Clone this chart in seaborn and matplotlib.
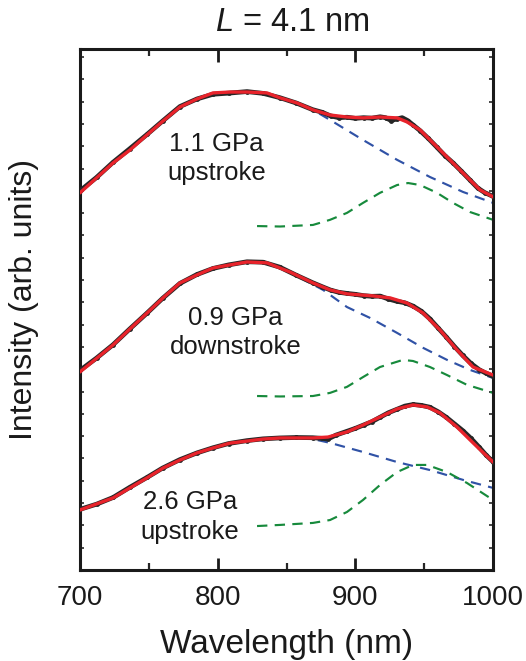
import numpy as np
import pandas as pd
import matplotlib
matplotlib.use("Agg")
import matplotlib.pyplot as plt
import seaborn as sns
from matplotlib.ticker import MultipleLocator

# ---------------- data ----------------
labels = ["1.1 GPa\nupstroke", "0.9 GPa\ndownstroke", "2.6 GPa\nupstroke"]

# --- top: 1.1 GPa upstroke ---
top_fit_x = [700, 724, 736.3, 748.7, 760.3, 772.6, 785, 796.6, 809, 821.3, 835.8, 845.3,
             857.6, 869.2, 881.6, 893.9, 905.6, 917.9, 930.3, 937.5, 947.0, 959.3, 970.9,
             981.1, 990.6, 1000]
top_fit_y = [16.91, 18.25, 18.83, 19.51, 20.13, 20.76, 21.12, 21.39, 21.43, 21.43, 21.39,
             21.17, 20.94, 20.63, 20.40, 20.31, 20.27, 20.31, 20.27, 20.09, 19.73, 18.97,
             18.25, 17.62, 17.04, 16.73]
top_data_x = [700, 712, 724, 736, 748.7, 760, 772.6, 785, 796.6, 808, 821.3, 833, 845, 857,
              869, 876, 882, 888, 894, 900, 906, 912, 918, 922, 926, 930, 934, 938, 942,
              947, 953, 959, 965, 971, 977, 983, 989, 994, 1000]
top_data_y = [17.0, 17.6, 18.28, 18.88, 19.53, 20.13, 20.78, 21.12, 21.33, 21.38, 21.45,
              21.37, 21.18, 20.94, 20.64, 20.52, 20.36, 20.28, 20.3, 20.25, 20.28, 20.26,
              20.32, 20.28, 20.15, 20.22, 20.28, 20.15, 19.95, 19.7, 19.35, 18.97, 18.58,
              18.25, 17.88, 17.5, 17.12, 16.92, 16.75]
top_base_x = [850, 869.2, 881.6, 905.6, 930.3, 954.2, 978.2, 1000]
top_base_y = [21.05, 20.63, 20.18, 19.28, 18.39, 17.62, 16.95, 16.46]
top_peak_x = [828.6, 845.3, 869.2, 881.6, 893.9, 905.6, 917.9, 930.3, 938.3, 947.0,
              959.3, 970.9, 983.3, 1000]
top_peak_y = [15.42, 15.40, 15.47, 15.70, 16.01, 16.46, 16.91, 17.26, 17.35, 17.26,
              16.91, 16.46, 16.05, 15.70]

# --- middle: 0.9 GPa downstroke ---
mid_fit_x = [700, 724, 736.3, 748.7, 760.3, 772.6, 785, 796.6, 809, 821.3, 835.8, 852.5,
             869.2, 881.6, 893.9, 912.8, 925.2, 937.5, 949.2, 961.5, 973.8, 985.5, 1000]
mid_fit_y = [8.88, 10.09, 10.81, 11.52, 12.2, 12.87, 13.23, 13.54, 13.68, 13.81, 13.77,
             13.36, 12.87, 12.56, 12.38, 12.29, 12.20, 11.97, 11.52, 10.76, 9.87, 9.10, 8.74]
mid_data_x = [700, 712, 724, 736, 748.7, 760, 772.6, 785, 796.6, 808, 821.3, 833, 845, 857,
              869, 876, 882, 888, 894, 900, 906, 912, 918, 924, 930, 936, 942, 948, 954,
              960, 966, 972, 978, 984, 990, 995, 1000]
mid_data_y = [8.95, 9.5, 10.1, 10.8, 11.52, 12.18, 12.85, 13.25, 13.52, 13.68, 13.82, 13.8,
              13.58, 13.22, 12.88, 12.7, 12.55, 12.45, 12.4, 12.36, 12.3, 12.27, 12.28, 12.15,
              12.05, 11.98, 11.83, 11.6, 11.27, 10.86, 10.45, 10.02, 9.62, 9.26, 8.98, 8.82,
              8.68]
mid_base_x = [860, 876.5, 893.9, 910.7, 930.3, 949.2, 966.6, 983.3, 1000]
mid_base_y = [13.1, 12.56, 11.79, 11.30, 10.63, 9.96, 9.42, 8.97, 8.61]
mid_peak_x = [828.6, 845.3, 869.2, 881.6, 893.9, 905.6, 917.9, 934.6, 941.9, 954.2,
              966.6, 981.1, 1000]
mid_peak_y = [7.80, 7.78, 7.80, 7.94, 8.21, 8.65, 9.10, 9.42, 9.37, 9.10, 8.74, 8.30, 7.94]

# --- bottom: 2.6 GPa upstroke ---
bot_fit_x = [700, 724, 736.3, 748.7, 760.3, 772.6, 785, 796.6, 809, 821.3, 833, 845.3,
             869.2, 880.1, 893.9, 905.6, 917.9, 930.3, 941.9, 952.1, 961.5, 973.8, 985.5, 1000]
bot_fit_y = [2.69, 3.23, 3.68, 4.13, 4.57, 4.93, 5.25, 5.47, 5.69, 5.78, 5.87, 5.92,
             5.92, 5.96, 6.19, 6.50, 6.86, 7.22, 7.40, 7.31, 7.04, 6.41, 5.70, 4.84]
bot_data_x = [700, 712, 724, 736, 748.7, 760, 772.6, 785, 796.6, 808, 821.3, 833, 845, 857,
              869, 876, 880, 886, 894, 900, 906, 912, 918, 924, 930, 936, 942, 948, 954,
              960, 966, 972, 978, 984, 990, 995, 1000]
bot_data_y = [2.72, 2.95, 3.25, 3.7, 4.15, 4.57, 4.95, 5.25, 5.48, 5.67, 5.8, 5.88, 5.92,
              5.94, 5.93, 5.9, 5.87, 6.05, 6.22, 6.35, 6.5, 6.65, 6.85, 7.05, 7.2, 7.35,
              7.42, 7.38, 7.3, 7.1, 6.85, 6.55, 6.25, 5.9, 5.5, 5.15, 4.85]
bot_base_x = [860, 869.2, 881.6, 905.6, 930.3, 954.2, 978.2, 1000]
bot_base_y = [5.92, 5.87, 5.70, 5.29, 4.84, 4.48, 4.04, 3.68]
bot_peak_x = [828.6, 845.3, 869.2, 881.6, 893.9, 905.6, 917.9, 930.3, 941.9, 952.1,
              966.6, 981.1, 1000]
bot_peak_y = [1.97, 2.02, 2.11, 2.24, 2.60, 3.14, 3.81, 4.39, 4.71, 4.71, 4.39, 3.90, 3.14]

# label anchor positions (nm, intensity)
label_x = [799, 813, 780]
label_y = [18.45, 10.65, 2.38]

x_ticks = [700, 800, 900, 1000]
x_tick_labels = ["700", "800", "900", "1000"]

# ---------------- styling ----------------
sns.set_theme(style="ticks")
plt.rcParams["font.family"] = ["Liberation Sans", "DejaVu Sans"]
plt.rcParams["mathtext.fontset"] = "custom"
plt.rcParams["mathtext.rm"] = "Liberation Sans"
plt.rcParams["mathtext.it"] = "Liberation Sans:italic"

RED = "#e8232b"
BLUE = "#3052a6"
GREEN = "#178a3c"
DASH = (0, (4.8, 3.4))
INK = "#1a1a1a"

fig = plt.figure(figsize=(5.26, 6.61), dpi=100)
ax = fig.add_axes([0.1521, 0.1377, 0.7852, 0.7882])

spectra = [
    (top_data_x, top_data_y, top_fit_x, top_fit_y, top_base_x, top_base_y, top_peak_x, top_peak_y),
    (mid_data_x, mid_data_y, mid_fit_x, mid_fit_y, mid_base_x, mid_base_y, mid_peak_x, mid_peak_y),
    (bot_data_x, bot_data_y, bot_fit_x, bot_fit_y, bot_base_x, bot_base_y, bot_peak_x, bot_peak_y),
]

for dx, dy, fx, fy, bx, by, px, py in spectra:
    sns.lineplot(x=bx, y=by, ax=ax, color=BLUE, linewidth=1.55, linestyle=DASH, zorder=2)
    sns.lineplot(x=px, y=py, ax=ax, color=GREEN, linewidth=1.55, linestyle=DASH, zorder=2)
    sns.lineplot(x=dx, y=dy, ax=ax, color="#262626", linewidth=3.4, marker="o",
                 markersize=3.5, markeredgewidth=0, zorder=3)
    sns.lineplot(x=fx, y=fy, ax=ax, color=RED, linewidth=2.4, zorder=4)

for lab, lx, ly in zip(labels, label_x, label_y):
    ax.text(lx, ly, lab, ha="center", va="center", fontsize=18.5, color=INK,
            linespacing=1.3, zorder=5)

ax.set_xlim(700, 1000)
ax.set_ylim(0, 23.36)
ax.set_xticks(x_ticks)
ax.set_xticklabels(x_tick_labels)
ax.xaxis.set_minor_locator(MultipleLocator(50))
ax.yaxis.set_major_locator(MultipleLocator(1))
ax.set_yticklabels([])

ax.tick_params(axis="x", which="major", direction="in", length=9, width=2.0,
               top=True, bottom=True, labelsize=20, pad=11, colors=INK)
ax.tick_params(axis="x", which="minor", direction="in", length=5, width=1.6,
               top=True, bottom=True)
ax.tick_params(axis="y", which="major", direction="in", length=3, width=1.2,
               left=True, right=True, labelleft=False)
for s in ax.spines.values():
    s.set_linewidth(2.2)
    s.set_color(INK)

ax.set_xlabel("Wavelength (nm)", fontsize=24, color=INK, labelpad=13)
ax.set_ylabel("Intensity (arb. units)", fontsize=23, color=INK)
ax.yaxis.set_label_coords(-0.1, 0.52)
ax.set_title(r"$\mathit{L}$ = 4.1 nm", fontsize=23.5, color=INK, pad=13, x=0.515)

fig.savefig("out.png", dpi=100)
